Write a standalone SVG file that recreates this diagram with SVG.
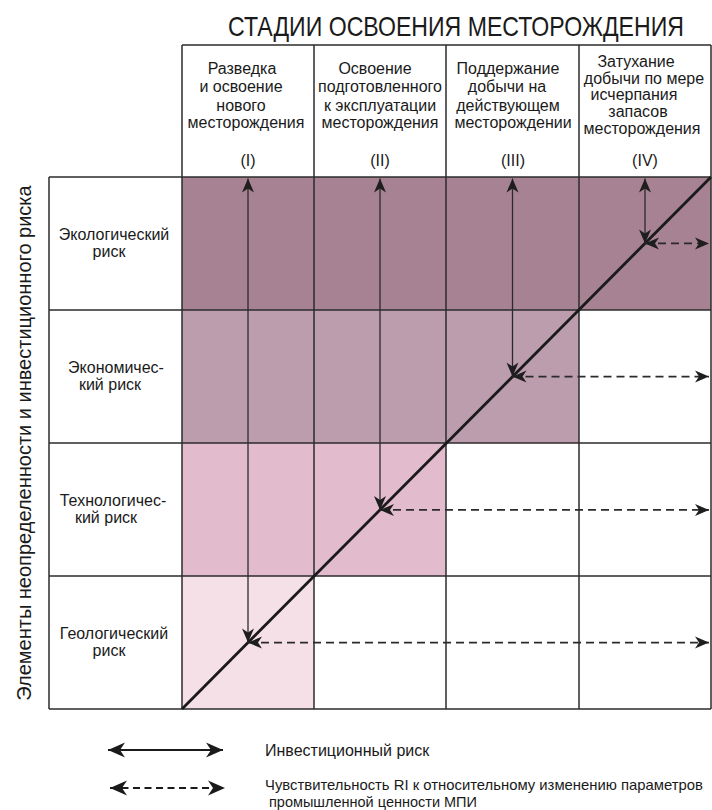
<svg xmlns="http://www.w3.org/2000/svg" width="712" height="810" viewBox="0 0 712 810">
<style>
text{font-family:"Liberation Sans",Arial,sans-serif;fill:#1a1a1a}
.h{font-size:16px;text-anchor:middle}
.l{font-size:16px;text-anchor:middle}
.grid{stroke:#2b2b2b;stroke-width:1.5;fill:none}
.arr{stroke:#2b2b2b;stroke-width:1.3;fill:none}
.dash{stroke:#2b2b2b;stroke-width:1.9;stroke-dasharray:8 5;fill:none}
.diag{stroke:#1a1a1a;stroke-width:2.8;fill:none}
</style>
<defs>
<marker id="ah" viewBox="-15 -7 15 14" refX="0" refY="0" markerWidth="15" markerHeight="14" markerUnits="userSpaceOnUse" orient="auto-start-reverse">
<path d="M0,0 L-14,-6 L-10,0 L-14,6 Z" fill="#1e1e1e"/>
</marker>
<marker id="ahL" viewBox="-18 -8 18 16" refX="0" refY="0" markerWidth="18" markerHeight="16" markerUnits="userSpaceOnUse" orient="auto-start-reverse">
<path d="M0,0 L-17,-7.5 L-12,0 L-17,7.5 Z" fill="#1a1a1a"/>
</marker>
</defs>
<rect width="712" height="810" fill="#ffffff"/>

<g id="title">
<text transform="translate(456,36) scale(0.815,1)" x="0" y="0" font-size="28" text-anchor="middle" textLength="559.5" lengthAdjust="spacingAndGlyphs">СТАДИИ ОСВОЕНИЯ МЕСТОРОЖДЕНИЯ</text>
</g>

<g id="axis-label">
<text transform="translate(31,443) rotate(-90)" font-size="20" text-anchor="middle">Элементы неопределенности и инвестиционного риска</text>
</g>

<g id="fills">
<rect x="182" y="177" width="529" height="133" fill="#a68292"/>
<rect x="182" y="310" width="397" height="133" fill="#bb9dae"/>
<rect x="182" y="443" width="264" height="133" fill="#e2bccd"/>
<rect x="182" y="576" width="132" height="133" fill="#f5e0e7"/>
</g>

<g id="grid" class="grid">
<line x1="182" y1="45" x2="711" y2="45"/>
<line x1="49" y1="177" x2="711" y2="177"/>
<line x1="49" y1="310" x2="711" y2="310"/>
<line x1="49" y1="443" x2="711" y2="443"/>
<line x1="49" y1="576" x2="711" y2="576"/>
<line x1="49" y1="709" x2="711" y2="709"/>
<line x1="49" y1="177" x2="49" y2="709"/>
<line x1="182" y1="45" x2="182" y2="709"/>
<line x1="314" y1="45" x2="314" y2="709"/>
<line x1="446" y1="45" x2="446" y2="709"/>
<line x1="579" y1="45" x2="579" y2="709"/>
<line x1="711" y1="45" x2="711" y2="709"/>
</g>

<g id="stage-1">
<text class="h" x="242" y="74">Разведка</text>
<text class="h" x="241" y="92">и освоение</text>
<text class="h" x="241" y="110.5">нового</text>
<text class="h" x="246" y="128">месторождения</text>
<text class="h" x="248" y="165.5">(I)</text>
</g>
<g id="stage-2">
<text class="h" x="375" y="74">Освоение</text>
<text class="h" x="380" y="92">подготовленного</text>
<text class="h" x="380" y="110.5">к эксплуатации</text>
<text class="h" x="380" y="128">месторождения</text>
<text class="h" x="380" y="165.5">(II)</text>
</g>
<g id="stage-3">
<text class="h" x="508" y="74">Поддержание</text>
<text class="h" x="507" y="92">добычи на</text>
<text class="h" x="508" y="110.5">действующем</text>
<text class="h" x="513" y="128">месторождении</text>
<text class="h" x="513" y="165.5">(III)</text>
</g>
<g id="stage-4">
<text class="h" x="636" y="67">Затухание</text>
<text class="h" x="644" y="83.5">добычи по мере</text>
<text class="h" x="634" y="100">исчерпания</text>
<text class="h" x="638" y="117">запасов</text>
<text class="h" x="642" y="133.5">месторождения</text>
<text class="h" x="645" y="165.5">(IV)</text>
</g>

<g id="risk-ecological">
<text class="l" x="114" y="240">Экологический</text>
<text class="l" x="109" y="257">риск</text>
</g>
<g id="risk-economic">
<text class="l" x="116" y="373">Экономичес-</text>
<text class="l" x="110" y="390">кий риск</text>
</g>
<g id="risk-technological">
<text class="l" x="113" y="506">Технологичес-</text>
<text class="l" x="106" y="523">кий риск</text>
</g>
<g id="risk-geological">
<text class="l" x="114" y="639">Геологический</text>
<text class="l" x="109" y="656">риск</text>
</g>

<g id="connectors">
<line class="diag" x1="182" y1="709" x2="711" y2="177"/>
<line class="arr" x1="248" y1="178.5" x2="248" y2="642.6" marker-start="url(#ah)" marker-end="url(#ah)"/>
<line class="arr" x1="380" y1="178.5" x2="380" y2="509.9" marker-start="url(#ah)" marker-end="url(#ah)"/>
<line class="arr" x1="512.5" y1="178.5" x2="512.5" y2="376.6" marker-start="url(#ah)" marker-end="url(#ah)"/>
<line class="arr" x1="645" y1="178.5" x2="645" y2="243.4" marker-start="url(#ah)" marker-end="url(#ah)"/>
<line class="dash" x1="248" y1="642.6" x2="709" y2="642.6" marker-start="url(#ah)" marker-end="url(#ah)"/>
<line class="dash" x1="380" y1="509.9" x2="709" y2="509.9" marker-start="url(#ah)" marker-end="url(#ah)"/>
<line class="dash" x1="512.5" y1="376.6" x2="709" y2="376.6" marker-start="url(#ah)" marker-end="url(#ah)"/>
<line class="dash" x1="645" y1="243.4" x2="709" y2="243.4" marker-start="url(#ah)" marker-end="url(#ah)"/>
</g>

<g id="legend">
<line x1="108" y1="750" x2="223" y2="750" stroke="#1a1a1a" stroke-width="2" marker-start="url(#ahL)" marker-end="url(#ahL)"/>
<line x1="110" y1="788" x2="225" y2="788" stroke="#1a1a1a" stroke-width="2.2" stroke-dasharray="7 4.5" marker-start="url(#ahL)" marker-end="url(#ahL)"/>
<text x="265" y="756" font-size="16">Инвестиционный риск</text>
<text x="265" y="789.5" font-size="14.5" textLength="438" lengthAdjust="spacingAndGlyphs">Чувствительность RI к относительному изменению параметров</text>
<text x="269" y="806.5" font-size="14.5"> промышленной ценности МПИ</text>
</g>
</svg>
